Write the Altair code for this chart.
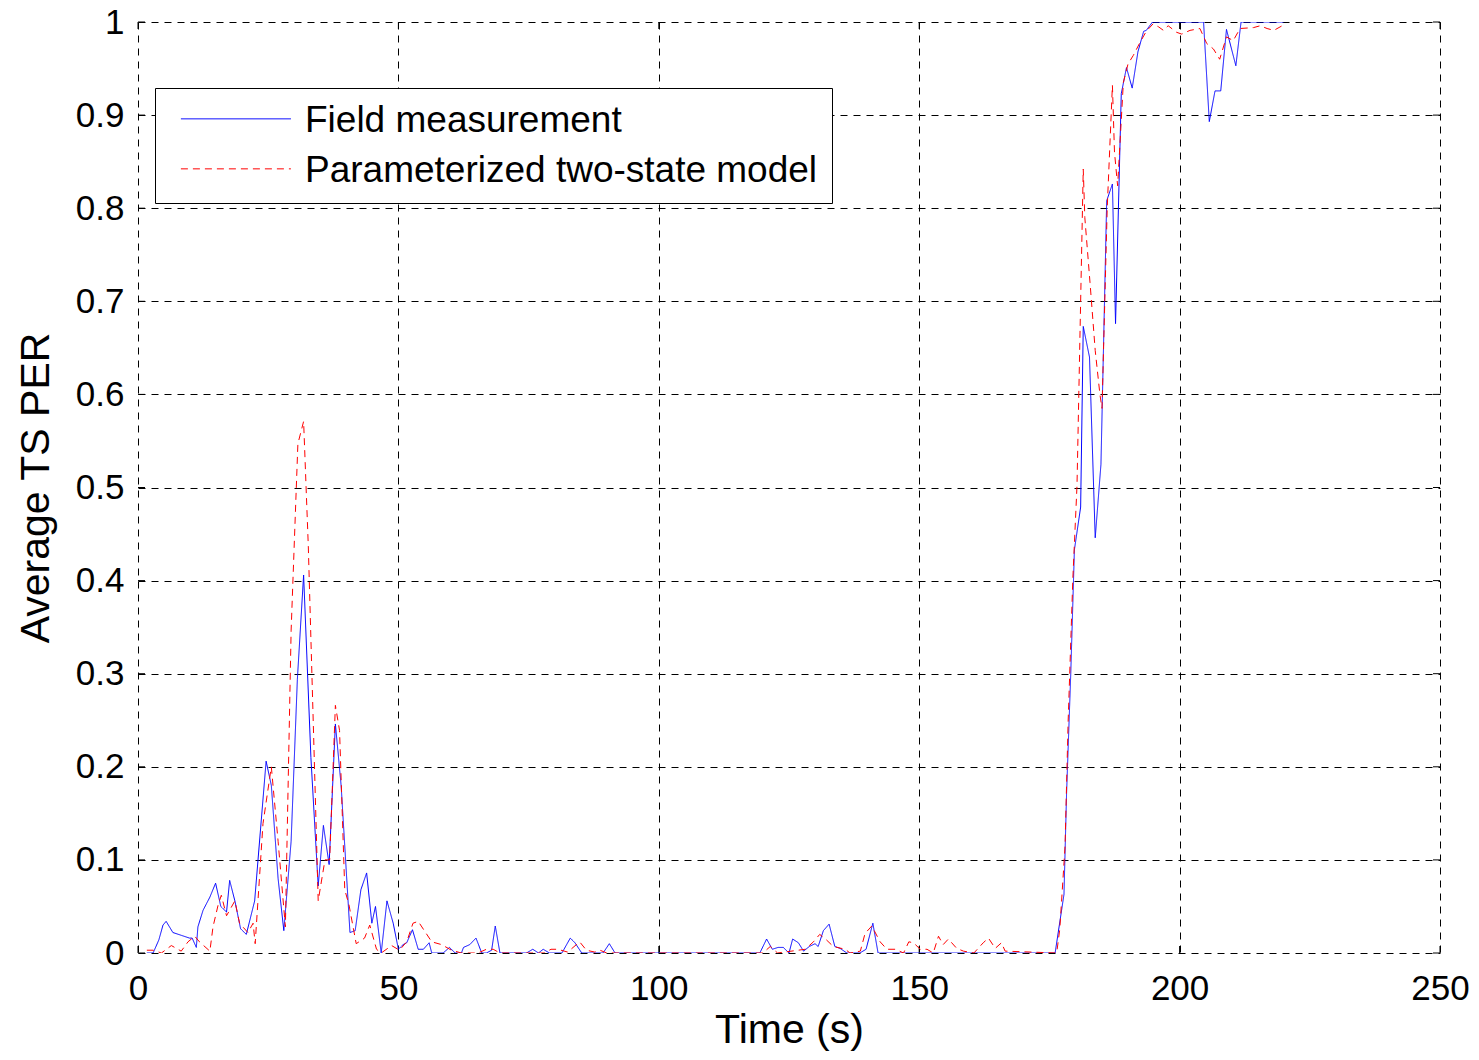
import altair as alt
import pandas as pd

series_names = ["Field measurement", "Parameterized two-state model"]
x_ticks = [0, 50, 100, 150, 200, 250]
y_ticks = [0, 0.1, 0.2, 0.3, 0.4, 0.5, 0.6, 0.7, 0.8, 0.9, 1]

blue_t = [1.7, 2.9, 4, 4.8, 5.4, 6.7, 8.3, 9.9, 10.4, 11.2, 11.5, 12.5, 13.8, 14.9, 15.9, 17, 17.6, 18.6,
          19.7, 20.8, 22.4, 24.6, 25.6, 26.9, 28, 29.4, 30.6, 31.8, 33.2, 34.6, 35.6, 36.7, 37.9, 39,
          40.7, 41.7, 42.8, 43.9, 44.9, 45.6, 46.7, 47.8, 49, 50, 50.9, 51.6, 52.7, 53.8, 54.8, 55.9,
          56.4, 58.6, 59.8, 60.9, 62.1, 62.5, 63.7, 64.9, 66, 66.9, 67.9, 68.6, 69.5, 74.6, 75.8, 76.9,
          77.8, 79, 81.4, 83, 83.9, 85.2, 89.3, 90.5, 91.6, 119.4, 120.7, 121.8, 122.9, 123.9, 125,
          125.7, 126.8, 127.8, 128.9, 130, 130.6, 131.6, 132.7, 133.8, 134.8, 136.1, 138.6, 139.8,
          141.1, 142.1, 176.1, 177.8, 178.3, 179.1, 179.8, 181, 181.5, 182.7, 183.8, 184.9, 186,
          187.1, 187.7, 188.8, 189.8, 190.9, 192, 193.1, 193.6, 194.8, 204.6, 205.7, 206.8, 207.9,
          209, 210.8, 211.8, 220]
blue_v = [0, 0, 0.014, 0.03, 0.034, 0.022, 0.019, 0.016, 0.016, 0.006, 0.028, 0.046, 0.06, 0.075, 0.05,
          0.044, 0.078, 0.056, 0.026, 0.02, 0.056, 0.206, 0.18, 0.08, 0.024, 0.12, 0.294, 0.406, 0.21,
          0.072, 0.137, 0.095, 0.246, 0.18, 0.022, 0.024, 0.068, 0.086, 0.032, 0.05, 0, 0.056, 0.032,
          0.004, 0.009, 0.011, 0.025, 0.004, 0.004, 0.011, 0, 0, 0.006, 0, 0, 0.006, 0.009, 0.016, 0,
          0, 0.003, 0.029, 0, 0, 0.004, 0, 0.004, 0, 0, 0.016, 0.011, 0, 0, 0.01, 0, 0, 0.015, 0.004,
          0.006, 0.006, 0, 0.015, 0.011, 0.002, 0.007, 0.01, 0.007, 0.024, 0.031, 0.007, 0.005, 0, 0,
          0.004, 0.032, 0, 0, 0.063, 0.172, 0.3, 0.433, 0.479, 0.673, 0.64, 0.446, 0.525, 0.808,
          0.826, 0.676, 0.923, 0.951, 0.929, 0.968, 0.99, 0.991, 1.0, 1.0, 0.893, 0.926, 0.926,
          0.992, 0.953, 1.0, 1.0]

red_t = [1.7, 2.9, 4.5, 6.4, 8.3, 9.6, 10.9, 11.8, 13.8, 14.4, 15.4, 16, 17, 18.6, 19.5, 21.1, 22.1,
         22.5, 24, 25.6, 26.9, 28.3, 29.4, 30.7, 31.8, 32.7, 33.6, 34.6, 35.9, 36.8, 37.9, 38.7, 39.7,
         40.5, 41.9, 43.5, 44.5, 45.8, 46.7, 48.7, 50.2, 51.6, 52.8, 53.8, 55.1, 56.4, 58.3, 60.2,
         62.1, 65.3, 66.9, 68.2, 69.5, 78, 79.3, 80.6, 82.5, 84.8, 86.1, 87.7, 88.7, 90, 120, 121.4,
         122.8, 128.1, 129.7, 130.9, 132.2, 133.5, 135.8, 136.7, 138.7, 139.6, 140.9, 142.5, 143.8,
         145.4, 147, 148, 148.9, 150.2, 151.5, 152.7, 153.7, 154.6, 155.6, 157.2, 158.5, 160.5,
         162.3, 163.3, 164.6, 165.8, 166.5, 176.4, 177, 178, 178.6, 179.5, 180.3, 181.5, 181.8,
         182.8, 183.8, 184.7, 185.1, 186.1, 187.1, 187.5, 188.1, 189.2, 190.1, 191.1, 192.3, 193.6,
         194.9, 195.9, 196.9, 197.8, 199.4, 200.4, 202, 203.9, 205.2, 206.5, 207.7, 209, 210.3,
         211.6, 214.2, 215.5, 216.8, 218.1, 219.7]
red_v = [0.003, 0.003, 0, 0.008, 0.002, 0.012, 0.018, 0.012, 0.002, 0.028, 0.052, 0.062, 0.04, 0.056,
         0.032, 0.022, 0.032, 0.01, 0.139, 0.2, 0.12, 0.028, 0.346, 0.547, 0.571, 0.437, 0.258, 0.056,
         0.1, 0.1, 0.266, 0.239, 0.068, 0.052, 0.01, 0.016, 0.03, 0.004, 0, 0.008, 0.003, 0.012,
         0.032, 0.034, 0.023, 0.012, 0.009, 0.003, 0, 0, 0.004, 0.004, 0, 0, 0.004, 0.004, 0.001,
         0.012, 0.003, 0.001, 0.003, 0, 0, 0.007, 0, 0.004, 0.012, 0.02, 0.014, 0.007, 0.004, 0,
         0.002, 0.021, 0.029, 0.012, 0.004, 0.004, 0, 0.012, 0.011, 0.004, 0.004, 0, 0.018, 0.009,
         0.015, 0.005, 0.002, 0, 0.011, 0.016, 0.005, 0.011, 0.002, 0, 0.026, 0.114, 0.249, 0.402,
         0.502, 0.842, 0.79, 0.72, 0.647, 0.6, 0.585, 0.8, 0.932, 0.86, 0.824, 0.935, 0.955, 0.964,
         0.977, 0.99, 0.998, 0.995, 0.991, 0.996, 0.989, 0.987, 0.991, 0.993, 0.977, 0.971, 0.96,
         0.984, 0.98, 0.993, 0.994, 0.996, 0.993, 0.991, 0.996]

df = pd.concat([
    pd.DataFrame({"t": blue_t, "v": blue_v, "series": series_names[0]}),
    pd.DataFrame({"t": red_t, "v": red_v, "series": series_names[1]}),
], ignore_index=True)
df_xt = pd.DataFrame({"t": x_ticks})
df_yt = pd.DataFrame({"v": y_ticks})

W, H = 1302, 931
FONT = "Liberation Sans"
TL = 7

xscale = alt.Scale(domain=[0, 250], nice=False, zero=False)
yscale = alt.Scale(domain=[0, 1], nice=False)

leg = alt.Legend(
    title=None, orient="none", legendX=17, legendY=66,
    symbolType="M-0.6,-0.15H9.4", symbolSize=484, symbolStrokeWidth=1,
    labelFontSize=37, labelFont=FONT, labelColor="black", labelOffset=99,
    padding=14, rowPadding=12, strokeColor="black", fillColor="white",
    labelLimit=0,
)

lines = alt.Chart(df).mark_line(strokeWidth=1, clip=True).encode(
    x=alt.X("t:Q", scale=xscale,
            axis=alt.Axis(values=x_ticks, title="Time (s)", format="d")),
    y=alt.Y("v:Q", scale=yscale,
            axis=alt.Axis(values=y_ticks, title="Average TS PER", format="~g")),
    color=alt.Color("series:N", scale=alt.Scale(domain=series_names, range=["#0000ff", "#ff0000"]),
                    legend=leg),
    strokeDash=alt.StrokeDash("series:N", scale=alt.Scale(domain=series_names, range=[[1, 0], [7, 5]]),
                              legend=leg),
    order=alt.Order("t:Q"),
)

ytick_l = alt.Chart(df_yt).mark_rule(color="black", strokeWidth=1).encode(
    y=alt.Y("v:Q", scale=yscale), x=alt.value(0), x2=alt.value(TL))
ytick_r = alt.Chart(df_yt).mark_rule(color="black", strokeWidth=1).encode(
    y=alt.Y("v:Q", scale=yscale), x=alt.value(W - TL), x2=alt.value(W))
xtick_b = alt.Chart(df_xt).mark_rule(color="black", strokeWidth=1).encode(
    x=alt.X("t:Q", scale=xscale), y=alt.value(H - TL), y2=alt.value(H))
xtick_t = alt.Chart(df_xt).mark_rule(color="black", strokeWidth=1).encode(
    x=alt.X("t:Q", scale=xscale), y=alt.value(0), y2=alt.value(TL))

chart = alt.layer(ytick_l, ytick_r, xtick_b, xtick_t, lines).properties(
    width=W, height=H,
    autosize=alt.AutoSizeParams(type="none"),
    padding={"left": 130, "top": 14, "right": 31, "bottom": 99},
).configure_view(stroke=None).configure_axis(
    grid=True, gridColor="black", gridDash=[7, 6], gridOpacity=1, gridWidth=1,
    domain=False, ticks=False, tickSize=0, labelFlush=False, labelOverlap=False,
    labelFont=FONT, labelFontSize=35, labelColor="black",
    titleFont=FONT, titleFontSize=41, titleFontWeight="normal", titleColor="black",
).configure_axisX(labelPadding=18, titlePadding=4).configure_axisY(
    labelPadding=14, titlePadding=18
)

chart.save("out.html", embed_options={"renderer": "svg", "actions": False})
